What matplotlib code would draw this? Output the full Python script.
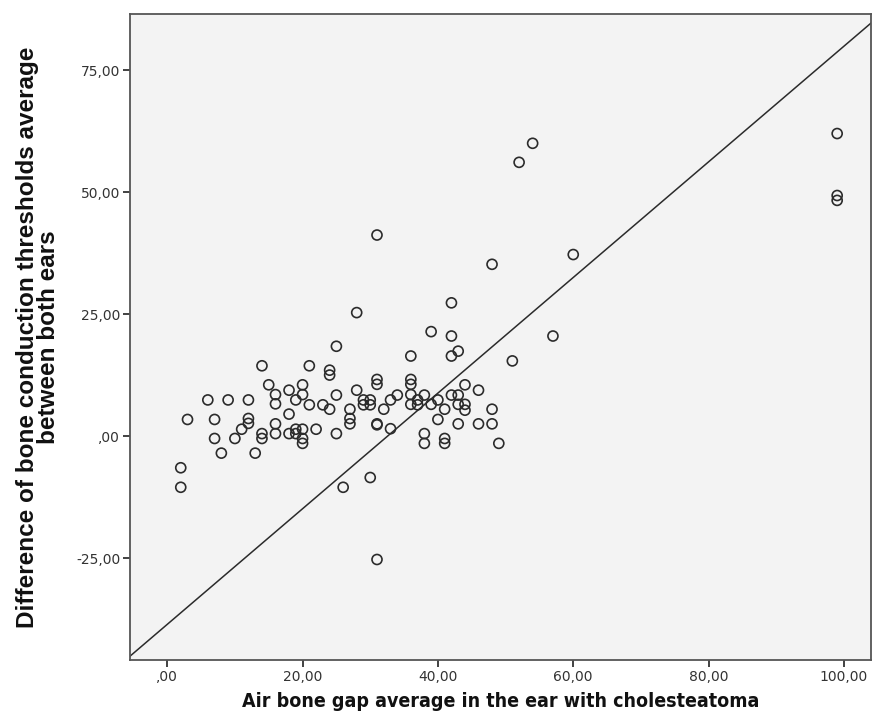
import matplotlib
matplotlib.use('Agg')
import matplotlib.pyplot as plt
from matplotlib.ticker import FuncFormatter

# air bone gap (x) and bone conduction difference (y)
air_bone_gap = [
    2, 2, 3, 6, 7, 7, 8, 9, 10, 11,
    12, 12, 12, 13, 14, 14, 14, 15, 16, 16,
    16, 16, 18, 18, 18, 19, 19, 19, 20, 20,
    20, 20, 20, 21, 21, 22, 23, 24, 24, 24,
    25, 25, 25, 26, 27, 27, 27, 28, 28, 29,
    29, 30, 30, 30, 31, 31, 31, 31, 31, 31,
    32, 33, 33, 34, 36, 36, 36, 36, 36, 37,
    37, 38, 38, 38, 39, 39, 40, 40, 41, 41,
    41, 42, 42, 42, 42, 43, 43, 43, 43, 44,
    44, 44, 46, 46, 48, 48, 48, 49, 51, 52,
    54, 57, 60, 99, 99, 99,
]
bone_diff = [
    -6.5, -10.5, 3.4, 7.4, 3.4, -0.5, -3.5, 7.4, -0.5, 1.4,
    7.4, 3.6, 2.6, -3.5, 14.4, 0.5, -0.5, 10.5, 8.5, 6.6,
    2.5, 0.5, 9.4, 4.5, 0.5, 7.4, 1.4, 0.5, 10.5, 8.5,
    1.4, -0.5, -1.5, 14.4, 6.4, 1.4, 6.4, 13.5, 12.5, 5.5,
    18.4, 8.4, 0.5, -10.5, 5.5, 3.6, 2.5, 25.3, 9.4, 7.4,
    6.4, 7.4, 6.4, -8.5, 41.2, 11.6, 10.6, 2.5, 2.3, -25.3,
    5.5, 7.4, 1.5, 8.4, 16.4, 11.6, 10.6, 8.5, 6.5, 7.4,
    6.4, 8.4, 0.5, -1.5, 21.4, 6.5, 7.4, 3.4, 5.5, -0.5,
    -1.5, 27.3, 20.5, 16.4, 8.4, 17.4, 8.4, 6.5, 2.5, 10.5,
    6.5, 5.3, 9.4, 2.5, 35.2, 5.5, 2.5, -1.5, 15.4, 56.1,
    60.0, 20.5, 37.2, 62.0, 49.3, 48.3,
]

x_ticks = [0, 20, 40, 60, 80, 100]
y_ticks = [-25, 0, 25, 50, 75]

ref_intercept = -38.6
ref_slope = 1.185


def comma_fmt(v, pos=None):
    s = '%.2f' % v
    s = s.replace('.', ',')
    if s.startswith('0,'):
        s = s[1:]
    return s


def main():
    fig = plt.figure(figsize=(8.73, 7.24), dpi=100)
    ax = fig.add_axes([130 / 873, 1 - 660 / 724, 741 / 873, 646 / 724])
    ax.set_facecolor('#f3f3f3')

    ax.scatter(air_bone_gap, bone_diff, s=52, facecolors='none',
               edgecolors='#2b2b2b', linewidths=1.2, zorder=3)
    ax.axline((0, ref_intercept), slope=ref_slope, color='#2b2b2b',
              linewidth=1.1, zorder=2)

    ax.set_xlim(-5.5, 104.0)
    ax.set_ylim(-45.9, 86.5)
    ax.set_xticks(x_ticks)
    ax.set_yticks(y_ticks)
    ax.xaxis.set_major_formatter(FuncFormatter(comma_fmt))
    ax.yaxis.set_major_formatter(FuncFormatter(comma_fmt))
    ax.tick_params(direction='out', length=5, width=1.3, color='#333333',
                   labelsize=10, labelcolor='#333333', pad=2)

    for side in ax.spines:
        ax.spines[side].set_color('#555555')
        ax.spines[side].set_linewidth(1.3)

    ax.set_xlabel('Air bone gap average in the ear with cholesteatoma',
                  fontsize=14, labelpad=6, color='#111111',
                  fontstretch='condensed', fontweight='semibold')
    ax.set_ylabel('Difference of bone conduction thresholds average\nbetween both ears',
                  fontsize=17.5, fontweight='bold',
                  family='Liberation Sans', color='#111111', linespacing=0.9)
    # right edge of the two-line label sits about 70 px left of the frame
    ax.yaxis.set_label_coords(-70 / 741, 0.5)

    plt.savefig('out.png', dpi=100)


if __name__ == '__main__':
    main()
